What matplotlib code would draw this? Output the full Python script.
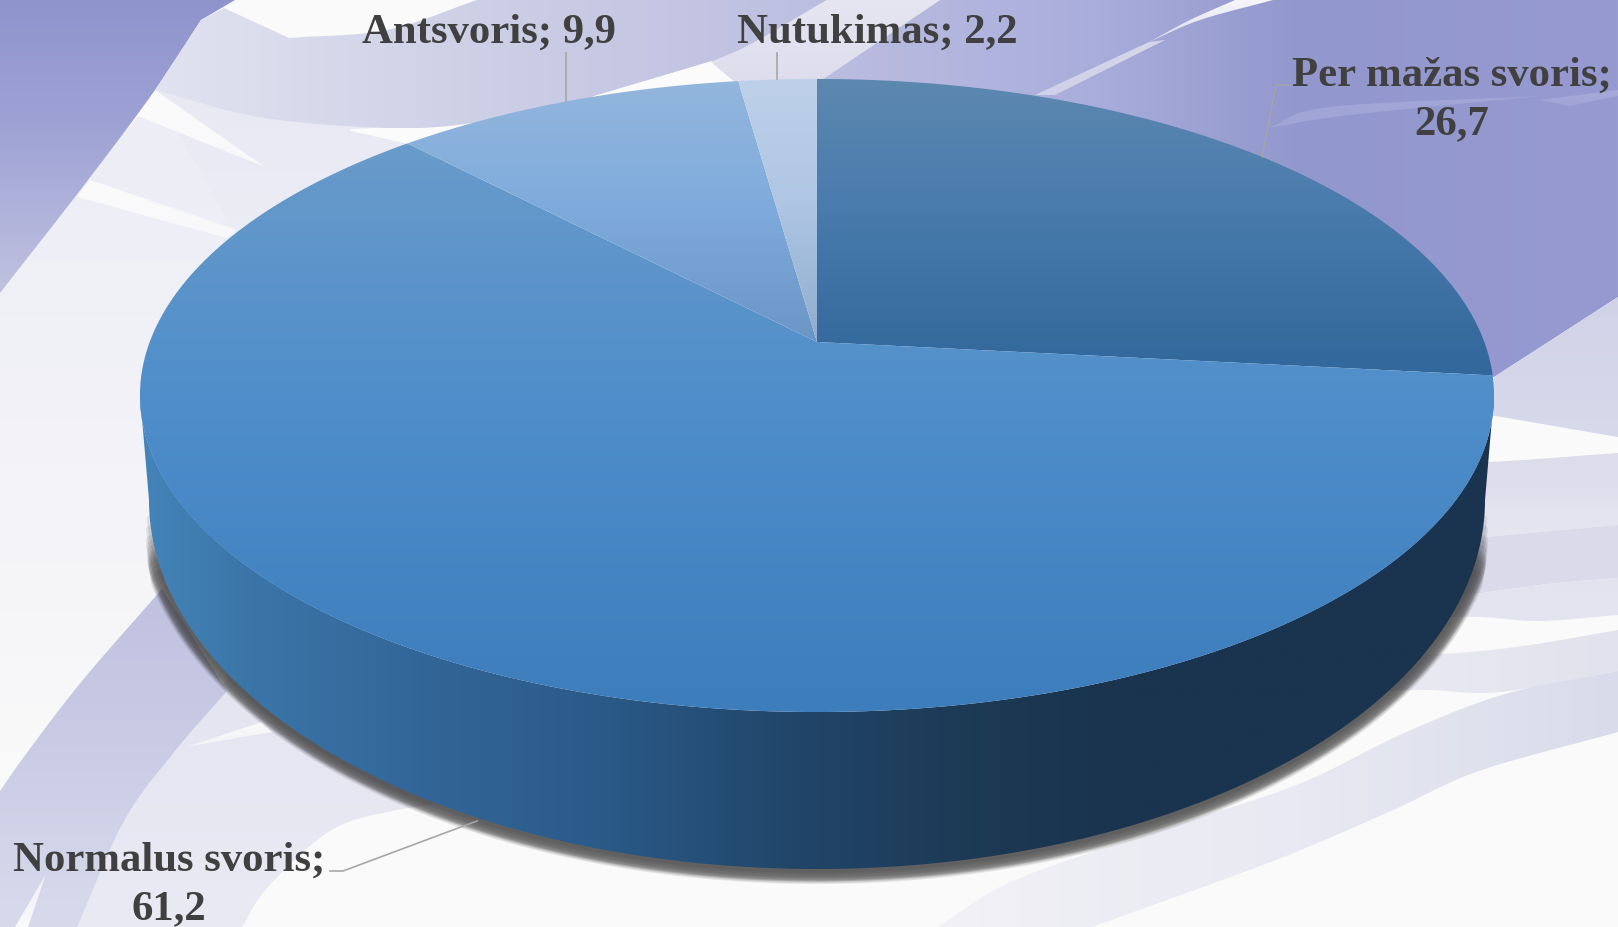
import numpy as np
import matplotlib
matplotlib.use('Agg')
import matplotlib.pyplot as plt
from matplotlib.colors import to_rgb
from matplotlib.patches import Polygon

# Datos del grafico
nombres = ['Per mažas svoris', 'Normalus svoris', 'Antsvoris', 'Nutukimas']
valores = [26.7, 61.2, 9.9, 2.2]
etiquetas = ['Per mažas svoris;\n26,7', 'Normalus svoris;\n61,2', 'Antsvoris; 9,9', 'Nutukimas; 2,2']

# Geometria del disco en pixeles
W, H = 1618, 927
cx, cy = 817, 342
k = 0.169
a_tapa = 667.3
b_tapa = 307.5


def proyectar(ang):
    # angulo en radianes, 0 arriba, sentido horario
    u, v = np.sin(ang), np.cos(ang)
    return cx + a_tapa * u / (1 + k * v), cy - b_tapa * v / (1 + k * v)


def suave(pts, n=24):
    # curva catmull-rom que pasa por los puntos
    p = np.array(pts, dtype=float)
    p = np.vstack([2 * p[0] - p[1], p, 2 * p[-1] - p[-2]])
    salida = []
    for i in range(1, len(p) - 2):
        for t in np.linspace(0, 1, n, endpoint=False):
            salida.append(0.5 * (2 * p[i] + (p[i + 1] - p[i - 1]) * t
                                 + (2 * p[i - 1] - 5 * p[i] + 4 * p[i + 1] - p[i + 2]) * t ** 2
                                 + (3 * p[i] - p[i - 1] - 3 * p[i + 1] + p[i + 2]) * t ** 3))
    salida.append(p[-2])
    return np.array(salida)


def degradado(ax, xy, paradas, eje='y', zorder=1):
    # rellena el poligono xy con un degradado recortado
    xy = np.asarray(xy)
    pos = [s[0] for s in paradas]
    cols = np.array([to_rgb(s[1]) for s in paradas])
    if eje == 'y':
        mallas = np.linspace(xy[:, 1].min(), xy[:, 1].max(), 512)
    else:
        mallas = np.linspace(xy[:, 0].min(), xy[:, 0].max(), 512)
    rgb = np.stack([np.interp(mallas, pos, cols[:, i]) for i in range(3)], axis=-1)
    img = rgb[:, None, :] if eje == 'y' else rgb[None, :, :]
    extent = (xy[:, 0].min(), xy[:, 0].max(), xy[:, 1].max(), xy[:, 1].min())
    parche = Polygon(xy, closed=True, transform=ax.transData, facecolor='none', edgecolor='none')
    ax.add_patch(parche)
    im = ax.imshow(img, extent=extent, aspect='auto', origin='upper', zorder=zorder, interpolation='bilinear')
    im.set_clip_path(parche)
    return im


def forma(ax, tramos, paradas, eje='y', zorder=1):
    xy = np.vstack([suave(t) if len(t) > 2 else np.array(t, dtype=float) for t in tramos])
    return degradado(ax, xy, paradas, eje, zorder)


fig = plt.figure(figsize=(W / 100, H / 100), dpi=100, facecolor='#fafafa')
ax = fig.add_axes([0, 0, 1, 1])
ax.set_facecolor('#fafafa')

# ---- Fondo ----
# lado izquierdo muy claro
forma(ax, [[(0, 280), (160, 90)], [(160, 90), (300, 150), (430, 300)],
           [(430, 300), (140, 620)], [(140, 620), (0, 790)]],
      [(100, '#eceDf5'), (420, '#f2f2f8'), (800, '#fafafa')])
# banda clara entre arriba y el disco
forma(ax, [[(155, 90), (258, 117), (387, 128), (479, 122), (520, 140)], [(520, 140), (330, 300)],
           [(330, 300), (230, 225)], [(230, 225), (155, 90)]],
      [(90, '#e8e9f3'), (300, '#eeeef6')])
# vetas blancas de la izquierda
forma(ax, [[(155, 90), (265, 167)], [(265, 167), (135, 115)], [(135, 115), (155, 90)]], [(90, '#fbfbfb'), (170, '#f8f8fb')])
forma(ax, [[(90, 180), (237, 230)], [(237, 230), (227, 238)], [(227, 238), (77, 197)], [(77, 197), (90, 180)]],
      [(180, '#fbfbfb'), (240, '#f8f8fb')])
ax.fill(*zip((350, 130), (479, 122), (407, 143)), color='#fbfbfb', zorder=1)
# mancha superior izquierda
forma(ax, [[(0, 0), (235, 0)], [(235, 0), (201, 20)], [(201, 20), (155, 90), (88, 180), (0, 293)], [(0, 293), (0, 0)]],
      [(0, '#8f94cd'), (120, '#9da1d4'), (293, '#c0c2e0')])
# banda lavanda superior
forma(ax, [[(201, 20), (224, 8)], [(224, 8), (289, 38)], [(289, 38), (387, 30), (477, 0)], [(477, 0), (827, 0)],
           [(827, 0), (753, 43), (711, 62), (593, 97), (479, 122), (387, 128), (258, 117), (155, 90)],
           [(155, 90), (201, 20)]],
      [(150, '#e2e3f0'), (450, '#cfd1e7'), (827, '#bcbee0')], eje='x')
ax.fill(*zip((593, 97), (711, 62), (738, 80), (660, 95)), color='#fbfbfb', zorder=1)
# cuña clara bajo Nutukimas
forma(ax, [[(711, 62), (753, 43), (827, 0)], [(827, 0), (940, 0)], [(940, 0), (807, 90)], [(807, 90), (738, 85)], [(738, 85), (711, 62)]],
      [(0, '#e6e6f2'), (90, '#dcdcec')])
# lavanda superior derecha
forma(ax, [[(940, 0), (1618, 0)], [(1618, 0), (1618, 297)], [(1618, 297), (1494, 377)], [(1494, 377), (1000, 300)], [(1000, 300), (807, 90)], [(807, 90), (940, 0)]],
      [(807, '#bcbee0'), (1000, '#b0b3dd'), (1100, '#a9addb'), (1300, '#9297cd'), (1618, '#969ad0')], eje='x')
forma(ax, [[(1618, 297), (1494, 377)], [(1494, 377), (1490, 415)], [(1490, 415), (1618, 437)], [(1618, 437), (1618, 297)]],
      [(297, '#d0d2e8'), (437, '#d8d9ea')])
# vetas del lado derecho
forma(ax, [[(1149, 42), (1200, 20), (1273, 0)], [(1273, 0), (1235, 0)], [(1235, 0), (1190, 20), (1149, 42)]],
      [(0, '#f6f6fa'), (42, '#dcdded')])
forma(ax, [[(1035, 95), (1149, 42)], [(1149, 42), (1165, 40)], [(1165, 40), (1055, 95)], [(1055, 95), (1035, 95)]],
      [(40, '#d6d7ea'), (95, '#cfd1e8')])
forma(ax, [[(1268, 128), (1330, 107), (1540, 96)], [(1540, 96), (1350, 115), (1268, 128)]],
      [(96, '#a3a7d7'), (128, '#a0a4d6')])
forma(ax, [[(1540, 100), (1618, 90)], [(1618, 90), (1618, 96)], [(1618, 96), (1570, 106)], [(1570, 106), (1540, 100)]],
      [(90, '#a8abd9'), (106, '#a0a4d6')])
# bandas inferiores derechas
forma(ax, [[(1400, 462), (1488, 462), (1618, 453)], [(1618, 453), (1618, 525)], [(1618, 525), (1540, 532), (1400, 545)], [(1400, 545), (1400, 462)]],
      [(453, '#dcdcea'), (490, '#dedeec'), (510, '#e4e4f0'), (545, '#e6e6f1')])
forma(ax, [[(1400, 545), (1540, 532), (1618, 525)], [(1618, 525), (1618, 578)], [(1618, 578), (1540, 585), (1400, 605)], [(1400, 605), (1400, 545)]],
      [(525, '#dbdbea'), (605, '#dadaea')])
forma(ax, [[(1400, 605), (1540, 585), (1618, 578)], [(1618, 578), (1618, 615)], [(1618, 615), (1540, 621), (1480, 617), (1400, 617)], [(1400, 617), (1400, 605)]],
      [(578, '#e3e3ef'), (621, '#e5e5f1')])
forma(ax, [[(1380, 655), (1457, 653), (1530, 645), (1618, 630)], [(1618, 630), (1618, 671)], [(1618, 671), (1500, 692), (1430, 690), (1380, 691)], [(1380, 691), (1380, 655)]],
      [(1380, '#eaeaf3'), (1618, '#e2e2ee')], eje='x')
forma(ax, [[(1618, 671), (1505, 694), (1402, 734), (1299, 784), (1170, 827), (1015, 880), (938, 927)], [(938, 927), (1092, 927)],
           [(1092, 927), (1273, 861), (1391, 811), (1479, 771), (1618, 732)], [(1618, 732), (1618, 671)]],
      [(938, '#f1f1f6'), (1300, '#e8e9f2'), (1618, '#d9dbea')], eje='x')
# bandas inferiores izquierdas
forma(ax, [[(227, 640), (470, 800)], [(470, 800), (392, 811), (330, 831), (268, 887), (242, 927)], [(242, 927), (60, 927)], [(60, 927), (124, 790), (227, 680)], [(227, 680), (227, 640)]],
      [(640, '#e3e4f1'), (927, '#eaeaf4')])
forma(ax, [[(186, 747), (262, 722)], [(262, 722), (272, 732)], [(272, 732), (186, 747)]], [(722, '#fbfbfb'), (750, '#f0f0f7')])
forma(ax, [[(162, 589), (82, 681), (26, 754), (0, 791)], [(0, 791), (0, 927)], [(0, 927), (77, 927)],
           [(77, 927), (124, 821), (175, 751), (227, 691)], [(227, 691), (162, 589)]],
      [(589, '#bfc1e0'), (760, '#cbcde6'), (927, '#d8daec')])
forma(ax, [[(15, 927), (46, 874)], [(46, 874), (28, 927)], [(28, 927), (15, 927)]], [(874, '#eeeef6'), (927, '#fbfbfb')])

# ---- Sombra ----
# las mas anchas empiezan mas abajo para que el extremo se desvanezca
for ancho in [28, 26, 24, 23, 22, 21, 20, 18, 16, 14, 10, 6]:
    t0 = ancho / 28 * 0.22
    t = np.linspace(t0, np.pi - t0, 300)
    x_base = 817 + 668 * np.cos(t)
    y_base = 500 + 369 * np.sin(t)
    ax.plot(x_base, y_base + 1, color='#2a2a2a', lw=ancho * 0.72, alpha=0.10, zorder=2, solid_capstyle='round')

# ---- Lateral ----
t_tapa = np.linspace(0, np.pi, 300)
x_tapa = 817 + 677 * np.cos(t_tapa)
y_tapa = 395 + 317 * np.sin(t_tapa)
t_base = np.linspace(np.pi, 0, 300)
lateral = np.vstack([np.column_stack([x_tapa, y_tapa]),
                     np.column_stack([817 + 668 * np.cos(t_base), 500 + 369 * np.sin(t_base)])])
degradado(ax, lateral, [(140, '#4484b8'), (250, '#3b75a8'), (420, '#336698'), (600, '#2a5a88'), (800, '#214568'),
                        (1000, '#1c3852'), (1120, '#1a344f'), (1494, '#1a344f')], eje='x', zorder=3)

# ---- Tapa con porciones ----
colores = [
    [(79, '#5d88b0'), (200, '#4a7cad'), (365, '#33689c')],
    [(140, '#6a9bca'), (400, '#4f8ecb'), (712, '#3d7dbb')],
    [(80, '#93b6dc'), (200, '#80acdd'), (345, '#6a95c5')],
    [(79, '#bfd1ea'), (200, '#afc6e4'), (345, '#8facce')],
]
acum = np.cumsum([0] + valores) / np.sum(valores) * 2 * np.pi
for i in range(len(valores)):
    angs = np.linspace(acum[i], acum[i + 1], 300)
    xs, ys = proyectar(angs)
    xy = np.vstack([[cx, cy], np.column_stack([xs, ys])])
    degradado(ax, xy, colores[i], zorder=4)

# ---- Lineas guia ----
guia = '#a6a6a6'
ax.plot([566, 566], [53, 101], color=guia, lw=1.2, zorder=5)
ax.plot([777.5, 777.5], [53, 79], color=guia, lw=1.2, zorder=5)
ax.plot([1289, 1276, 1262], [85, 85, 157], color='#a9a89a', lw=0.8, zorder=5)
ax.plot([330, 343, 477], [871, 871, 821], color=guia, lw=1.2, zorder=5)

# ---- Textos ----
pos_texto = [(1452, 86), (169, 871), (489, 43), (877, 43)]
for etiqueta, (x, y) in zip(etiquetas, pos_texto):
    for j, linea in enumerate(etiqueta.split('\n')):
        ax.text(x, y + j * 48.5, linea, family='Liberation Serif', weight='bold', fontsize=30.8,
                color='#404040', ha='center', va='baseline', zorder=6)

ax.set_xlim(0, W)
ax.set_ylim(H, 0)
ax.axis('off')
fig.savefig('out.png', dpi=100, facecolor=fig.get_facecolor())
